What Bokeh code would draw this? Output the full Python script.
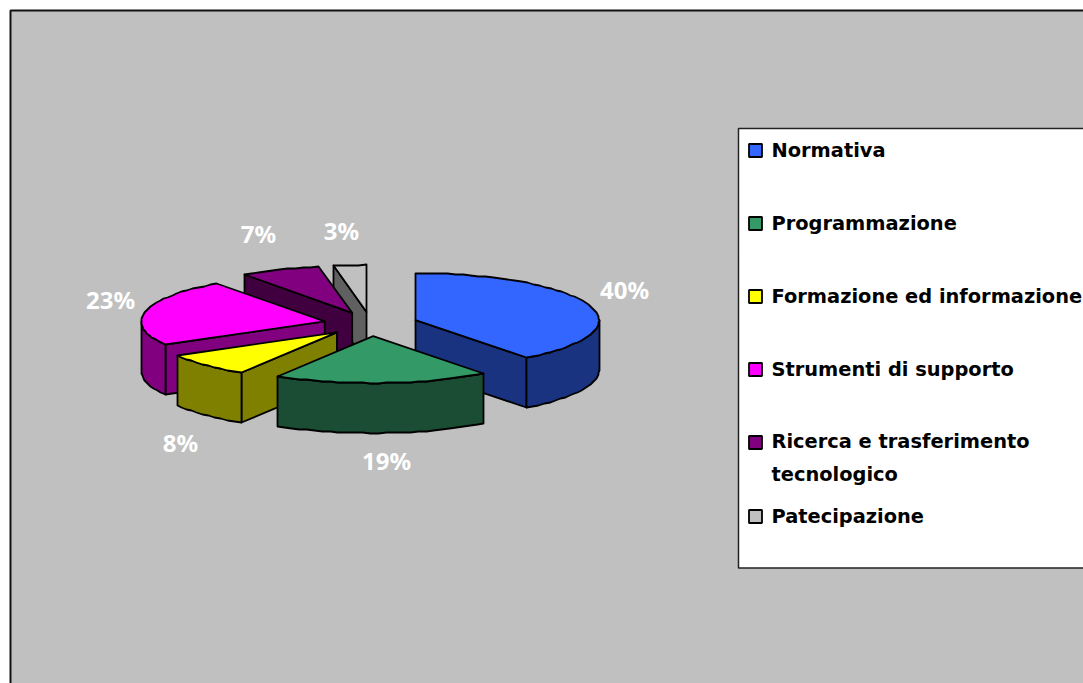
import math
from bokeh.plotting import figure
from bokeh.models import Range1d
from bokeh.core.properties import value
from bokeh.embed import file_html
from bokeh.resources import INLINE

categories = ["Normativa", "Programmazione", "Formazione ed informazione",
              "Strumenti di supporto", "Ricerca e trasferimento\ntecnologico", "Patecipazione"]
shares = [39.7, 19.0, 8.1, 23.2, 7.1, 2.9]
top_colors = ["#3366FF", "#339966", "#FFFF00", "#FF00FF", "#800080", "#C0C0C0"]
side_colors = ["#1A3380", "#1A4D33", "#808000", "#800080", "#400040", "#606060"]

# layout, in page pixels
CX, CY, RX, RY, DEPTH, EXPLODE = 370.3, 323.5, 183.5, 47, 50, 0.257
label_x = [624, 386, 180, 110, 258, 341]
label_y = [289, 460, 442, 299, 233, 230]
legend_y = [150, 223, 296, 369, 442, 516]
FONT = "DejaVu Sans"

p = figure(width=1083, height=683, output_backend="svg", toolbar_location=None,
           x_range=Range1d(0, 1083), y_range=Range1d(683, 0),
           min_border=0, background_fill_color="white", border_fill_color="white",
           outline_line_color=None)
p.axis.visible = False
p.grid.visible = False

p.quad(left=[10], right=[1200], top=[10], bottom=[800],
       fill_color="#C0C0C0", line_color="#111111", line_width=2)


def pt(ax, ay, deg):
    a = math.radians(deg)
    return round(ax + RX * math.sin(a)), round(ay - RY * math.cos(a))


def arc(ax, ay, a0, a1):
    n = max(2, int(abs(a1 - a0) / 2.5))
    return [pt(ax, ay, a0 + (a1 - a0) * i / n) for i in range(n + 1)]


def face(points, color):
    p.patch([q[0] for q in points], [q[1] for q in points], fill_color=color,
            line_color="black", line_width=1.8, line_join="round")


angles = []
start = 0.0
total = sum(shares)
for s in shares:
    angles.append((start, start + 360.0 * s / total))
    start += 360.0 * s / total

for i in [5, 4, 3, 2, 0, 1]:
    a0, a1 = angles[i]
    mid = math.radians((a0 + a1) / 2)
    ax = CX + EXPLODE * RX * math.sin(mid)
    ay = CY - EXPLODE * RY * math.cos(mid)
    apex = (ax, ay)
    if a0 > 180:
        e = pt(ax, ay, a0)
        face([apex, e, (e[0], e[1] + DEPTH), (ax, ay + DEPTH)], side_colors[i])
    if a1 < 180:
        e = pt(ax, ay, a1)
        face([apex, e, (e[0], e[1] + DEPTH), (ax, ay + DEPTH)], side_colors[i])
    w0, w1 = max(a0, 90), min(a1, 270)
    if w0 < w1:
        rim = arc(ax, ay, w0, w1)
        face(rim + [(x, y + DEPTH) for x, y in reversed(rim)], side_colors[i])
    face([apex] + arc(ax, ay, a0, a1), top_colors[i])

p.text(label_x, label_y, text=[f"{round(s)}%" for s in shares], text_color="white",
       text_font=value("Noto Sans"), text_font_style="bold", text_font_size="24px",
       text_align="center", text_baseline="middle")

p.quad(left=[738], right=[1200], top=[128], bottom=[567.5],
       fill_color="white", line_color="#222222", line_width=1.5)
p.scatter([755] * 6, legend_y, marker="square", size=13, fill_color=top_colors,
          line_color="black", line_width=1.8)
for name, y in zip(categories, legend_y):
    lines = name.split("\n")
    for j, line in enumerate(lines):
        p.text([771], [y - (1 if len(lines) > 1 else 0) + 33 * j], text=[line], text_color="black",
               text_font=value(FONT), text_font_style="bold", text_font_size="19.4px",
               text_align="left", text_baseline="middle")

open("out.html", "w").write(file_html(p, INLINE))
